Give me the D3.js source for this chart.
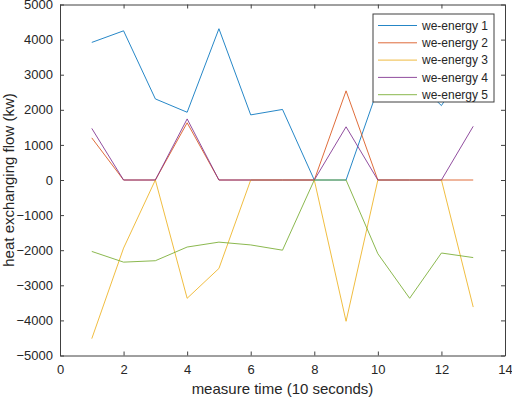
<!DOCTYPE html>
<html>
<head>
<meta charset="utf-8">
<script src="https://cdn.jsdelivr.net/npm/d3@7"></script>
<style>
  body { margin: 0; background: #fff; }
  svg text { font-family: "Liberation Sans", Arial, sans-serif; fill: #262626; }
</style>
</head>
<body>
<div id="chart"></div>
<script>
const times = [1, 2, 3, 4, 5, 6, 7, 8, 9, 10, 11, 12, 13]
const seriesNames = ["we-energy 1", "we-energy 2", "we-energy 3", "we-energy 4", "we-energy 5"]
const energy1 = [3920, 4250, 2310, 1930, 4310, 1855, 2010, 0, 0, 2600, 3000, 2120, 3500]
const energy2 = [1200, 0, 0, 1630, 0, 0, 0, 0, 2540, 0, 0, 0, 0]
const energy3 = [-4520, -1940, 0, -3370, -2520, 0, 0, 0, -4025, 0, 0, 0, -3620]
const energy4 = [1470, 0, 0, 1740, 0, 0, 0, 0, 1515, 0, 0, 0, 1530]
const energy5 = [-2035, -2340, -2300, -1910, -1770, -1850, -2000, 0, 0, -2100, -3370, -2080, -2210]
const xTicks = [0, 2, 4, 6, 8, 10, 12, 14]
const yTicks = [-5000, -4000, -3000, -2000, -1000, 0, 1000, 2000, 3000, 4000, 5000]
const colors = ["#0072BD", "#D95319", "#EDB120", "#7E2F8E", "#77AC30"]

drawChart("#chart")

function drawChart(id){
    const canvas = createCanvas()
    const svg = d3.select(id).append("svg").attr("width", canvas.width).attr("height", canvas.height)
    const sc = addScales(canvas)
    addAxes(svg, sc, canvas)
    addLines(svg, sc)
    addLegend(svg)
    addLabels(svg, canvas)
}

function createCanvas(){
    return { width: 512, height: 398, margin: { top: 4.5, right: 7, bottom: 42.5, left: 60 } }
}

function addScales(canvas){
    const xScale = d3.scaleLinear().domain([0, 14])
      .range([canvas.margin.left, canvas.width - canvas.margin.right])
    const yScale = d3.scaleLinear().domain([-5000, 5000])
      .range([canvas.height - canvas.margin.bottom, canvas.margin.top])
    return { xScale, yScale }
}

function addAxes(svg, sc, canvas){
    const [x0, x1] = sc.xScale.range()
    const [y0, y1] = sc.yScale.range()
    const axisColor = "#404040"
    const fmt = d3.format("d")

    const bottom = svg.append("g").attr("transform", `translate(0,${y0})`)
      .call(d3.axisBottom(sc.xScale).tickValues(xTicks).tickFormat(fmt).tickSizeInner(-4).tickSizeOuter(0).tickPadding(9))
    const left = svg.append("g").attr("transform", `translate(${x0},0)`)
      .call(d3.axisLeft(sc.yScale).tickValues(yTicks).tickFormat(fmt).tickSizeInner(-4).tickSizeOuter(0).tickPadding(7))
    const top = svg.append("g").attr("transform", `translate(0,${y1})`)
      .call(d3.axisTop(sc.xScale).tickValues(xTicks).tickSizeInner(-4).tickSizeOuter(0).tickFormat(""))
    const right = svg.append("g").attr("transform", `translate(${x1},0)`)
      .call(d3.axisRight(sc.yScale).tickValues(yTicks).tickSizeInner(-4).tickSizeOuter(0).tickFormat(""))

    for (const g of [bottom, left, top, right]) {
        g.select(".domain").attr("stroke", axisColor)
        g.selectAll(".tick line").attr("stroke", axisColor)
        g.selectAll(".tick text").attr("font-size", "13px").attr("fill", "#262626")
          .attr("font-family", "Liberation Sans, Arial, sans-serif")
    }
}

function addLines(svg, sc){
    const all = [energy1, energy2, energy3, energy4, energy5]
    const line = d3.line().x((d, i) => sc.xScale(times[i])).y(d => sc.yScale(d))
    all.forEach((vals, k) => {
        svg.append("path").datum(vals).attr("fill", "none")
          .attr("stroke", colors[k]).attr("stroke-width", 1).attr("opacity", 0.85).attr("d", line)
    })
}

function addLegend(svg){
    const lg = svg.append("g").attr("transform", "translate(373,14)")
    lg.append("rect").attr("x", 0).attr("y", 0).attr("width", 121).attr("height", 88)
      .attr("fill", "#fff").attr("stroke", "#404040").attr("stroke-width", 1)
    seriesNames.forEach((name, i) => {
        const y = 11.5 + i * 17.3
        lg.append("line").attr("x1", 5).attr("x2", 44).attr("y1", y).attr("y2", y)
          .attr("stroke", colors[i]).attr("stroke-width", 1).attr("opacity", 0.85)
        lg.append("text").attr("x", 49).attr("y", y).attr("dy", "0.35em")
          .attr("font-size", "12px").text(name)
    })
}

function addLabels(svg, canvas){
    svg.append("text").attr("x", 282.5).attr("y", 394)
      .attr("text-anchor", "middle").attr("font-size", "15px")
      .text("measure time (10 seconds)")

    svg.append("text").attr("transform", "translate(14,180) rotate(-90)")
      .attr("text-anchor", "middle").attr("font-size", "15px")
      .text("heat exchanging flow (kw)")
}
</script>
</body>
</html>
